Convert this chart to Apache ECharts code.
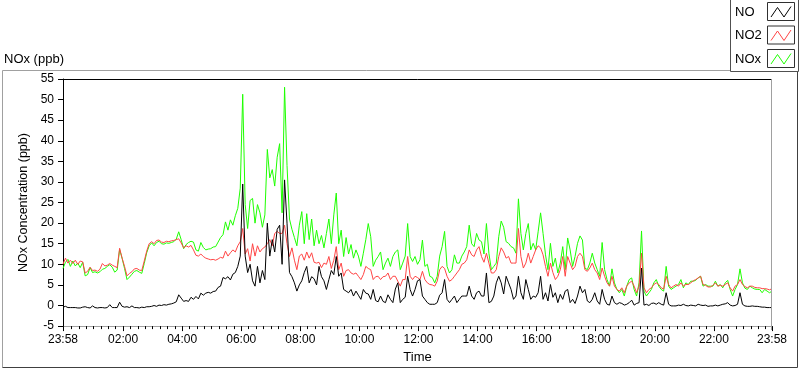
<!DOCTYPE html>
<html><head><meta charset="utf-8">
<script src="https://cdn.jsdelivr.net/npm/echarts@6/dist/echarts.min.js"></script>
<style>html,body{margin:0;padding:0;background:#fff;}#c{width:800px;height:369px;}</style>
</head><body><div id="c"></div>
<script>
// Samples every 5 minutes, starting 23:58 (offset 0) and ending 23:58 next day (offset 1440)
const STEP_MIN = 5;
const tickOffsets = [0,122,242,362,482,602,722,842,962,1082,1202,1322,1440];
const tickLabels = ['23:58','02:00','04:00','06:00','08:00','10:00','12:00','14:00','16:00','18:00','20:00','22:00','23:58'];
const yTicks = [-5,0,5,10,15,20,25,30,35,40,45,50,55];

const seriesNames = ['NO','NO2','NOx'];

const NOx = [
9.0,10.5,11.2,9.5,10.8,9.6,10.3,9.2,10.5,7.2,
7.5,9.2,8.0,8.2,7.9,8.2,8.8,9.0,9.5,9.9,
9.3,8.1,8.6,13.6,11.5,9.0,6.3,6.9,7.6,8.3,
8.5,8.1,7.8,10.2,12.8,14.5,15.2,14.5,15.3,15.6,
15.0,14.9,15.2,15.1,15.3,15.5,16.1,17.9,16.0,13.8,
14.8,15.3,15.6,15.4,13.5,13.2,15.3,14.1,13.5,13.7,
13.8,14.2,14.3,15.4,16.5,17.2,20.3,18.3,20.8,19.5,
21.8,23.6,28.5,51.3,24.5,18.7,25.5,26.0,20.0,24.5,
22.5,19.0,22.0,37.9,31.0,33.0,29.0,36.0,39.3,22.5,
53.0,34.0,21.0,18.5,16.5,14.5,19.5,
22.8,15.0,22.3,16.0,21.0,14.5,18.3,15.0,17.0,14.0,
17.5,21.0,15.0,22.0,27.3,15.0,18.3,11.9,16.5,12.5,
14.8,11.5,13.5,12.0,9.5,12.7,16.0,19.9,16.7,9.5,
11.0,11.9,13.0,8.7,10.3,11.5,9.5,11.9,13.0,13.5,
8.7,10.3,12.0,19.9,11.9,10.7,11.9,10.0,11.1,15.9,
9.5,10.0,7.1,6.8,5.5,7.1,12.0,14.3,18.0,9.5,
7.9,8.7,12.3,10.3,10.3,12.0,13.0,14.3,19.5,15.0,
14.3,17.5,15.9,15.5,12.5,19.9,12.7,8.7,9.5,10.3,
16.7,20.5,19.0,15.5,15.1,14.3,14.0,12.7,25.9,17.5,
13.5,17.5,19.9,13.5,15.1,
13.5,17.9,22.5,17.5,12.3,8.7,15.1,9.5,11.5,7.9,
10.3,14.3,8.7,16.4,13.5,9.5,11.9,15.1,16.9,15.9,
9.1,8.7,10.3,12.7,10.3,8.7,7.1,15.3,8.7,6.3,
4.7,8.9,5.5,3.9,3.1,3.9,2.3,4.7,6.3,6.7,
3.9,2.3,5.5,18.1,3.5,2.3,3.1,3.9,5.5,6.3,
4.7,3.9,3.5,9.5,4.7,3.9,4.3,4.7,5.1,6.3,
4.3,5.5,5.1,5.9,5.9,6.1,6.7,7.1,4.7,5.1,
4.7,4.7,4.7,5.9,4.7,5.1,4.3,5.5,6.1,3.9,
2.3,3.9,5.1,8.9,5.5,4.2,3.9,4.7,4.3,4.0,
3.9,3.9,3.1,3.9,3.5,3.1,3.5
];

const NO2 = [
10.0,11.5,10.3,11.0,10.2,11.0,10.0,10.8,10.6,7.9,
8.3,9.3,8.5,8.6,8.3,8.8,10.2,9.6,9.8,10.2,
9.8,9.5,9.2,13.9,11.5,9.5,7.2,7.8,8.2,8.9,
9.0,8.6,8.5,10.8,13.2,15.0,15.5,15.0,15.8,15.9,
15.4,15.3,15.6,15.5,15.7,15.8,16.0,16.2,15.2,14.0,
14.5,14.2,14.6,13.5,12.2,12.0,12.5,11.9,11.5,11.3,
11.1,11.2,11.0,11.3,11.7,11.5,13.2,12.0,12.8,13.5,
13.0,14.5,15.5,18.7,12.5,13.8,10.8,15.0,12.0,14.5,
13.0,13.8,14.2,15.0,16.0,14.5,17.5,18.0,17.5,17.5,
19.5,15.0,11.9,14.0,11.0,8.7,12.0,
12.5,11.0,13.0,11.5,12.8,10.5,10.3,10.5,9.2,10.3,
10.0,11.9,9.0,11.0,14.3,8.7,10.3,7.1,8.5,8.7,
7.9,7.6,7.9,7.1,6.3,7.5,9.5,9.0,8.7,6.3,
7.0,7.1,6.3,7.0,7.1,7.9,6.3,7.1,7.1,5.9,
4.7,6.3,6.3,11.9,7.1,6.3,7.1,6.8,6.3,8.3,
6.3,5.5,5.1,5.0,4.7,5.9,8.7,9.5,9.0,7.1,
5.9,6.3,7.1,7.9,8.7,10.0,10.3,11.1,13.5,12.3,
11.9,13.5,14.3,11.9,10.5,12.7,10.3,7.9,7.9,8.7,
11.9,14.0,13.0,11.5,11.9,10.3,10.3,10.3,18.7,11.9,
9.1,10.3,12.7,10.3,11.9,
13.5,14.5,14.0,12.3,9.5,7.1,10.3,8.0,6.3,7.1,
8.7,11.9,7.1,11.9,10.3,8.7,9.5,11.9,12.7,11.9,
8.7,8.3,9.1,10.3,8.7,7.9,6.3,9.1,7.1,5.5,
4.7,7.1,4.7,3.9,3.5,4.3,3.1,4.7,5.5,5.9,
4.7,3.1,4.7,12.7,4.3,3.1,3.9,4.3,5.1,5.5,
5.1,4.3,4.0,7.1,5.1,4.3,4.7,5.1,4.7,5.5,
4.7,5.1,5.1,5.5,6.0,6.3,6.7,7.1,5.1,4.9,
4.5,4.5,4.9,5.5,4.7,4.9,4.7,5.1,5.5,4.3,
3.5,4.7,5.1,6.3,5.1,4.6,4.3,4.7,4.7,4.4,
4.3,4.3,4.1,4.1,4.0,3.8,4.1
];

const NO = [
-0.4,-0.2,-0.5,-0.5,-0.5,-0.5,-0.6,-0.6,-0.4,-0.3,
-0.5,-0.6,-0.1,-0.5,-0.6,-0.5,-0.5,-0.6,-0.5,0.2,
-0.5,-0.5,-0.5,0.8,-0.2,-0.4,-0.3,-0.5,-0.1,-0.5,
-0.5,-0.6,-0.4,-0.5,-0.3,-0.3,-0.2,0.0,-0.2,0.1,
0.0,0.2,0.1,0.3,0.4,0.6,0.9,2.6,1.8,1.0,
1.2,1.0,2.0,1.5,2.2,1.6,3.0,2.5,3.0,3.2,
3.0,3.4,3.5,4.4,4.7,6.8,6.5,7.0,6.2,7.6,
8.0,9.5,12.0,29.5,12.0,8.0,10.0,6.0,4.7,9.5,
5.5,8.5,6.3,20.0,12.0,16.0,13.0,18.5,19.5,10.0,
30.5,20.0,8.0,7.0,5.5,3.5,5.0,
6.0,8.0,9.5,5.5,7.0,6.5,5.0,9.5,7.0,6.0,
3.9,6.3,8.5,7.5,11.9,7.1,7.9,3.9,3.5,3.1,
3.9,2.3,3.5,2.5,1.5,3.9,3.0,2.8,1.5,3.9,
1.2,0.9,2.3,1.0,0.7,2.6,1.5,0.7,4.0,5.5,
0.7,1.5,2.0,7.1,3.9,2.3,3.9,6.0,6.3,2.3,
1.5,0.7,0.3,0.3,0.3,0.7,2.5,3.1,6.3,1.5,
0.7,1.5,2.3,0.7,1.5,2.3,2.3,2.3,4.7,2.3,
1.5,3.1,3.5,2.3,2.3,7.9,0.7,1.0,2.3,5.5,
7.1,5.5,2.8,7.1,5.5,3.9,1.5,2.3,7.1,3.1,
1.5,6.3,3.9,1.5,2.3,
2.0,3.1,7.1,1.5,3.1,1.1,5.1,2.0,3.1,0.7,
2.7,1.5,3.5,3.9,0.7,1.5,0.5,2.3,4.7,3.1,
3.9,1.1,0.7,1.5,3.1,1.1,0.3,3.9,1.5,0.3,
0.1,2.3,0.7,0.3,0.7,0.5,0.1,0.3,0.7,1.3,
0.1,0.5,0.7,9.1,0.1,0.3,0.0,0.5,0.6,0.3,
0.7,0.3,0.1,3.1,0.3,-0.1,-0.1,-0.1,0.1,0.0,
0.3,0.0,-0.1,0.1,0.0,-0.1,0.3,0.1,0.0,0.1,
-0.2,-0.1,-0.1,0.1,-0.1,0.1,0.3,0.4,0.7,0.1,
-0.1,0.0,0.3,3.1,0.3,-0.1,-0.2,-0.2,-0.1,-0.2,
-0.2,-0.3,-0.4,-0.4,-0.5,-0.5,-0.5
];

const colors = {NO:'#000000', NO2:'#ff4545', NOx:'#1eff00'};
const FONT = '"Liberation Sans", Arial, sans-serif';

const toPairs = arr => arr.map((v,i)=>[i*STEP_MIN, v]);
const minorTicks = [];
for (let t = 2; t < 1440; t += 15) { if ((t - 2) % 120 !== 0) minorTicks.push(t); }

const chart = echarts.init(document.getElementById('c'), null, {renderer:'canvas'});

// legend decoration
const legendItems = [];
const boxX = 767, boxW = 27, boxH = 18;
seriesNames.forEach((n, k) => {
  const by = 2.5 + k*23.5;
  legendItems.push({type:'text', left: 735, top: by + 3, style:{text:n, font:'13px ' + FONT, fill:'#000'}, z:101});
  legendItems.push({type:'rect', shape:{x:boxX+0.5, y:by, width:boxW, height:boxH}, style:{fill:'#fff', stroke:'#303030', lineWidth:1}, z:101});
  legendItems.push({type:'polyline', shape:{points:[[boxX+4,by+14.5],[boxX+10.5,by+5],[boxX+17,by+14.5],[boxX+24,by+4]]}, style:{stroke:colors[n], lineWidth:1, fill:null}, z:102});
});

const lineSeries = (name, arr, z) => ({
  name, type:'line', data:toPairs(arr), showSymbol:false, symbol:'none',
  lineStyle:{color:colors[name], width:1}, itemStyle:{color:colors[name]}, z
});

chart.setOption({
  animation:false,
  backgroundColor:'#fff',
  textStyle:{fontFamily:FONT},
  title:{text:'NOx (ppb)', left:4, top:53, padding:0, textStyle:{fontSize:13, fontWeight:'normal', color:'#000', fontFamily:FONT}},
  grid:{left:63, right:28, top:79, bottom:39, show:false},
  xAxis:[{
    type:'value', min:0, max:1440,
    name:'Time', nameLocation:'middle', nameGap:22,
    nameTextStyle:{fontSize:13, color:'#000', fontFamily:FONT},
    axisLine:{show:true, onZero:false, lineStyle:{color:'#a0a0a0', width:1}},
    axisTick:{show:true, customValues:tickOffsets, length:5, lineStyle:{color:'#000'}},
    axisLabel:{customValues:tickOffsets, margin:8, fontSize:12, color:'#000', fontFamily:FONT,
      formatter: v => { const k = tickOffsets.indexOf(v); return k >= 0 ? tickLabels[k] : ''; }},
    splitLine:{show:false}
  },{
    type:'value', min:0, max:1440, position:'bottom', offset:0,
    axisLine:{show:false, onZero:false},
    axisTick:{show:true, customValues:minorTicks, length:3, lineStyle:{color:'#000'}},
    axisLabel:{show:false},
    splitLine:{show:false}
  }],
  yAxis:{
    type:'value', min:-5, max:55, interval:5,
    name:'NOx Concentration (ppb)', nameLocation:'middle', nameGap:27, nameRotate:90,
    nameTextStyle:{fontSize:12.5, color:'#000', fontFamily:FONT},
    axisLine:{show:true, lineStyle:{color:'#000', width:1}},
    axisTick:{show:true, length:5, lineStyle:{color:'#000'}},
    axisLabel:{margin:9, fontSize:12, color:'#000', fontFamily:FONT},
    splitLine:{show:false}
  },
  series:[
    lineSeries('NOx', NOx, 2),
    lineSeries('NO2', NO2, 3),
    lineSeries('NO', NO, 4)
  ],
  graphic:[
    {type:'polyline', shape:{points:[[2.5,367.5],[2.5,70.5],[730,70.5]]}, style:{stroke:'#a0a0a0', fill:null, lineWidth:1}, z:50},
    {type:'polyline', shape:{points:[[2.5,367.5],[797.5,367.5],[797.5,72]]}, style:{stroke:'#404040', fill:null, lineWidth:1}, z:50},
    {type:'polyline', shape:{points:[[63,79.5],[771.5,79.5]]}, style:{stroke:'#000', fill:null, lineWidth:1}, z:50},
    {type:'polyline', shape:{points:[[771.5,79.5],[771.5,330]]}, style:{stroke:'#a0a0a0', fill:null, lineWidth:1}, z:50},
    {type:'polyline', shape:{points:[[730.5,0],[730.5,71.5],[798.5,71.5],[798.5,0]]}, style:{stroke:'#505050', fill:'#fff', lineWidth:1}, z:100}
  ].concat(legendItems)
});
</script></body></html>
